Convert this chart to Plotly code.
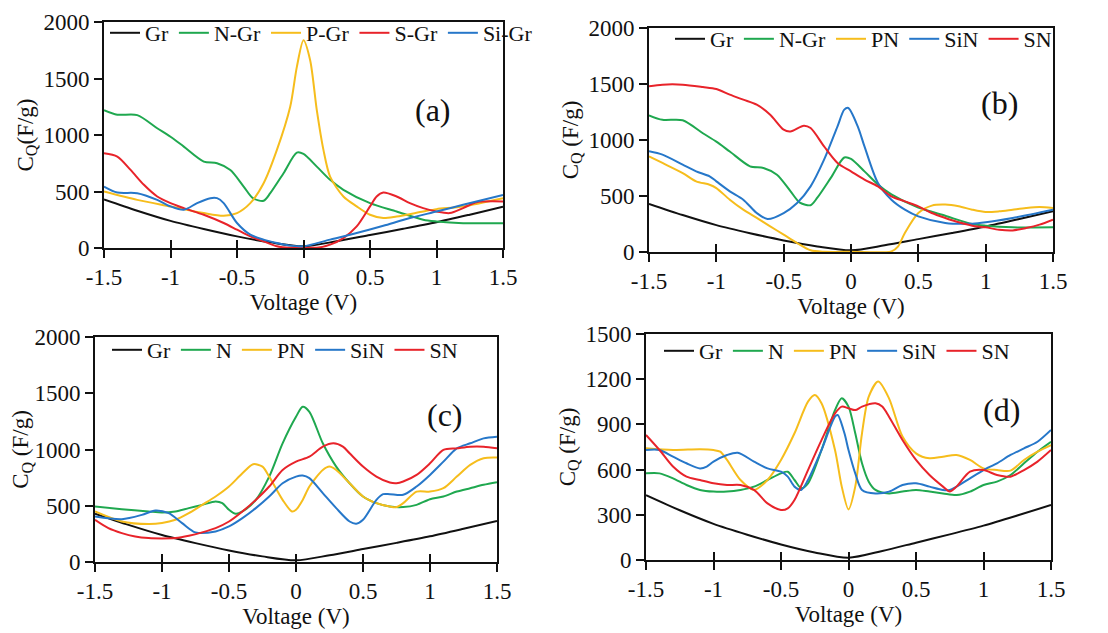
import plotly.graph_objects as go

# The page body adds an 8 px margin, so the figure is drawn 8 px in from the window edge.
WIN_W, WIN_H = 1108, 633
OFF = 8
W, H = WIN_W - OFF, WIN_H - OFF

V_TICKS = [-1.5, -1, -0.5, 0, 0.5, 1, 1.5]
V_TICK_TEXT = ["-1.5", "-1", "-0.5", "0", "0.5", "1", "1.5"]
C_TICKS_A = [0, 500, 1000, 1500, 2000]
C_TICKS_D = [0, 300, 600, 900, 1200, 1500]

# Pristine graphene (same in every panel)
gr_v = [-1.5, -1.25, -1.0, -0.75, -0.5, -0.25, 0.0, 0.25, 0.5, 0.75, 1.0, 1.25, 1.5]
gr_c = [430, 330, 240, 168, 103, 50, 15, 60, 115, 170, 228, 295, 365]

# ---------- panel (a) ----------
a_ngr_v = [-1.5, -1.4, -1.25, -1.1, -1.0, -0.9, -0.75, -0.65, -0.55, -0.45, -0.38, -0.3, -0.25,
           -0.15, -0.05, 0.0, 0.1, 0.2, 0.3, 0.5, 0.7, 0.9, 1.0, 1.2, 1.5]
a_ngr_c = [1220, 1180, 1176, 1060, 985, 897, 765, 750, 690, 544, 441, 418, 485,
           662, 844, 832, 720, 603, 515, 397, 323, 250, 235, 220, 220]
a_pgr_v = [-1.5, -1.25, -1.0, -0.75, -0.6, -0.5, -0.4, -0.3, -0.2, -0.1, -0.05, 0.0, 0.05, 0.1,
           0.15, 0.2, 0.3, 0.4, 0.5, 0.6, 0.7, 0.9, 1.0, 1.2, 1.5]
a_pgr_c = [500, 426, 368, 309, 285, 309, 397, 573, 868, 1250, 1603, 1838, 1662, 1220,
           868, 632, 456, 368, 294, 265, 279, 323, 344, 368, 441]
a_sgr_v = [-1.5, -1.4, -1.3, -1.2, -1.1, -1.0, -0.9, -0.75, -0.6, -0.5, -0.4, -0.3, -0.2, -0.1,
           0.0, 0.1, 0.2, 0.3, 0.4, 0.5, 0.55, 0.6, 0.7, 0.8, 0.9, 1.0, 1.1, 1.2, 1.3, 1.5]
a_sgr_c = [838, 809, 691, 559, 456, 397, 353, 294, 221, 162, 103, 59, 15, 2,
           5, 2, 30, 88, 191, 368, 456, 491, 456, 397, 353, 323, 309, 353, 405, 412]
a_sigr_v = [-1.5, -1.4, -1.25, -1.1, -1.0, -0.9, -0.8, -0.7, -0.65, -0.6, -0.5, -0.4, -0.3, -0.2,
            -0.1, 0.0, 0.2, 0.4, 0.6, 0.8, 1.0, 1.2, 1.5]
a_sigr_c = [544, 491, 485, 426, 368, 338, 397, 441, 441, 397, 221, 118, 74, 44,
            21, 15, 74, 132, 197, 265, 323, 382, 470]

# ---------- panel (b) ----------
b_pn_v = [-1.5, -1.4, -1.25, -1.15, -1.05, -1.0, -0.9, -0.8, -0.7, -0.6, -0.5, -0.4, -0.3, -0.2,
          0.0, 0.3, 0.35, 0.4, 0.5, 0.6, 0.7, 0.8, 0.9, 1.0, 1.1, 1.2, 1.3, 1.4, 1.5]
b_pn_c = [854, 795, 705, 631, 601, 571, 467, 378, 304, 229, 155, 80, 15, 2,
          2, 6, 51, 170, 348, 414, 423, 408, 378, 357, 363, 378, 393, 402, 393]
b_sin_v = [-1.5, -1.4, -1.25, -1.15, -1.05, -1.0, -0.9, -0.8, -0.7, -0.62, -0.5, -0.4, -0.3, -0.2,
           -0.1, -0.05, -0.02, 0.05, 0.1, 0.2, 0.3, 0.4, 0.5, 0.7, 0.9, 1.0, 1.2, 1.5]
b_sin_c = [899, 869, 780, 720, 676, 631, 542, 467, 348, 295, 348, 438, 586, 824,
           1122, 1271, 1286, 1122, 943, 616, 467, 378, 318, 259, 253, 265, 304, 378]
b_sn_v = [-1.5, -1.4, -1.25, -1.1, -1.0, -0.9, -0.8, -0.7, -0.6, -0.5, -0.45, -0.35, -0.3, -0.2,
          -0.1, 0.0, 0.1, 0.2, 0.3, 0.4, 0.5, 0.6, 0.7, 0.8, 0.9, 1.0, 1.1, 1.2, 1.3, 1.4, 1.5]
b_sn_c = [1479, 1494, 1494, 1473, 1455, 1405, 1360, 1315, 1226, 1092, 1077, 1128, 1107, 943,
          795, 720, 646, 586, 497, 452, 408, 348, 304, 265, 235, 220, 199, 193, 214, 244, 289]

# ---------- panel (c) ----------
c_n_v = [-1.5, -1.3, -1.1, -1.0, -0.9, -0.8, -0.7, -0.6, -0.55, -0.5, -0.45, -0.4, -0.3, -0.2,
         -0.1, 0.0, 0.05, 0.1, 0.2, 0.3, 0.4, 0.5, 0.6, 0.7, 0.8, 0.9, 1.0, 1.1, 1.2, 1.3, 1.4, 1.5]
c_n_c = [493, 470, 449, 440, 449, 479, 508, 538, 523, 464, 428, 449, 552, 759,
         1055, 1291, 1380, 1335, 1055, 848, 700, 582, 523, 493, 488, 508, 558, 582, 626, 656, 686, 709]
c_pn_v = [-1.5, -1.3, -1.1, -1.0, -0.9, -0.8, -0.7, -0.6, -0.5, -0.4, -0.32, -0.25, -0.2, -0.1,
          -0.03, 0.0, 0.05, 0.1, 0.2, 0.25, 0.3, 0.4, 0.5, 0.6, 0.7, 0.75, 0.8, 0.9, 1.0, 1.1,
          1.2, 1.3, 1.4, 1.5]
c_pn_c = [449, 360, 337, 346, 375, 434, 508, 582, 671, 789, 869, 848, 759, 552,
          449, 464, 552, 671, 818, 848, 818, 700, 582, 523, 493, 488, 523, 626, 626, 656,
          759, 863, 922, 928]
c_sin_v = [-1.5, -1.3, -1.15, -1.05, -0.95, -0.85, -0.75, -0.6, -0.5, -0.4, -0.3, -0.2, -0.1, 0.0,
           0.05, 0.1, 0.2, 0.3, 0.4, 0.45, 0.5, 0.6, 0.65, 0.7, 0.8, 0.9, 1.0, 1.1, 1.2, 1.3,
           1.4, 1.5]
c_sin_c = [405, 381, 419, 458, 434, 346, 263, 272, 316, 390, 479, 582, 700, 759,
           768, 745, 612, 479, 360, 340, 375, 552, 603, 603, 597, 671, 774, 892, 1010, 1055,
           1099, 1114]
c_sn_v = [-1.5, -1.4, -1.3, -1.2, -1.1, -1.0, -0.9, -0.8, -0.7, -0.6, -0.5, -0.4, -0.3, -0.2,
          -0.1, 0.0, 0.1, 0.2, 0.28, 0.35, 0.4, 0.5, 0.6, 0.7, 0.75, 0.8, 0.9, 1.0, 1.1, 1.2,
          1.3, 1.4, 1.5]
c_sn_c = [375, 301, 257, 227, 213, 210, 213, 233, 263, 301, 360, 449, 552, 671,
          818, 892, 937, 1025, 1055, 1025, 966, 848, 759, 706, 700, 715, 774, 877, 996, 1010,
          1025, 1025, 1010]

# ---------- panel (d) ----------
d_n_v = [-1.5, -1.4, -1.3, -1.2, -1.1, -1.0, -0.9, -0.8, -0.7, -0.6, -0.5, -0.45, -0.4, -0.35,
         -0.3, -0.2, -0.1, -0.05, 0.0, 0.05, 0.1, 0.15, 0.2, 0.3, 0.4, 0.5, 0.6, 0.7, 0.8, 0.9,
         1.0, 1.1, 1.2, 1.3, 1.4, 1.5]
d_n_c = [575, 575, 542, 498, 465, 454, 454, 465, 487, 531, 575, 586, 531, 476,
         509, 730, 995, 1073, 1018, 841, 642, 520, 465, 442, 454, 465, 454, 442, 431, 454,
         498, 520, 564, 642, 719, 785]
d_pn_v = [-1.5, -1.3, -1.1, -1.0, -0.95, -0.9, -0.8, -0.7, -0.6, -0.5, -0.4, -0.3, -0.25, -0.2,
          -0.1, -0.05, 0.0, 0.05, 0.1, 0.15, 0.22, 0.3, 0.4, 0.5, 0.6, 0.7, 0.8, 0.9, 1.0, 1.1,
          1.2, 1.3, 1.4, 1.5]
d_pn_c = [741, 730, 735, 730, 719, 664, 531, 465, 531, 664, 841, 1051, 1095, 1040,
          730, 487, 336, 487, 841, 1084, 1184, 1073, 819, 708, 675, 686, 697, 664, 608, 597,
          593, 664, 719, 763]
d_sin_v = [-1.5, -1.4, -1.3, -1.2, -1.1, -1.05, -1.0, -0.9, -0.82, -0.7, -0.6, -0.5, -0.45, -0.4,
           -0.35, -0.3, -0.2, -0.1, -0.08, -0.03, 0.0, 0.05, 0.1, 0.2, 0.3, 0.4, 0.5, 0.6, 0.7,
           0.75, 0.8, 0.9, 1.0, 1.1, 1.2, 1.3, 1.4, 1.5]
d_sin_c = [730, 730, 686, 642, 608, 620, 653, 697, 712, 653, 608, 586, 553, 487,
           465, 531, 730, 951, 962, 841, 730, 575, 465, 442, 454, 498, 509, 487, 465,
           465, 487, 542, 597, 642, 697, 741, 785, 863]
d_sn_v = [-1.5, -1.4, -1.3, -1.2, -1.1, -1.0, -0.9, -0.8, -0.7, -0.6, -0.5, -0.45, -0.4, -0.3,
          -0.2, -0.1, -0.05, 0.0, 0.05, 0.1, 0.2, 0.25, 0.3, 0.4, 0.5, 0.6, 0.7, 0.75, 0.8, 0.9,
          1.0, 1.1, 1.2, 1.3, 1.4, 1.5]
d_sn_c = [830, 730, 620, 553, 531, 509, 498, 498, 465, 376, 332, 343, 398, 597,
          796, 973, 1018, 1007, 995, 1018, 1040, 1018, 951, 796, 664, 564, 487, 454, 487, 586,
          597, 564, 553, 597, 653, 730]

BLACK = "#111111"
GREEN = "#1fa84f"
YELLOW = "#f6bd1c"
RED = "#e8232a"
BLUE = "#2677c9"

panels = [
    ("", "legend", [("Gr", gr_v, gr_c, BLACK), ("N-Gr", a_ngr_v, a_ngr_c, GREEN),
                    ("P-Gr", a_pgr_v, a_pgr_c, YELLOW), ("S-Gr", a_sgr_v, a_sgr_c, RED),
                    ("Si-Gr", a_sigr_v, a_sigr_c, BLUE)]),
    ("2", "legend2", [("Gr", gr_v, gr_c, BLACK), ("N-Gr", a_ngr_v, a_ngr_c, GREEN),
                      ("PN", b_pn_v, b_pn_c, YELLOW), ("SiN", b_sin_v, b_sin_c, BLUE),
                      ("SN", b_sn_v, b_sn_c, RED)]),
    ("3", "legend3", [("Gr", gr_v, gr_c, BLACK), ("N", c_n_v, c_n_c, GREEN),
                      ("PN", c_pn_v, c_pn_c, YELLOW), ("SiN", c_sin_v, c_sin_c, BLUE),
                      ("SN", c_sn_v, c_sn_c, RED)]),
    ("4", "legend4", [("Gr", gr_v, gr_c, BLACK), ("N", d_n_v, d_n_c, GREEN),
                      ("PN", d_pn_v, d_pn_c, YELLOW), ("SiN", d_sin_v, d_sin_c, BLUE),
                      ("SN", d_sn_v, d_sn_c, RED)]),
]

overlay_ids = {"": "5", "2": "6", "3": "7", "4": "8"}

fig = go.Figure()
for suffix, leg, series in panels:
    for name, xs, ys, col in series:
        fig.add_trace(go.Scatter(
            x=xs, y=ys, name=name, mode="lines",
            line=dict(color=col, width=2, shape="spline", smoothing=0.8),
            xaxis="x" + suffix, yaxis="y" + suffix, legend=leg,
            hoverinfo="skip"))
    # empty trace so the tick-overlay axis gets drawn
    fig.add_trace(go.Scatter(x=[], y=[], mode="lines", showlegend=False, hoverinfo="skip",
                             xaxis="x" + overlay_ids[suffix], yaxis="y" + suffix))

FONT = "Liberation Serif"
FS = 23


def px_x(p):
    return (p - OFF) / W


def px_y(p):
    return 1 - (p - OFF) / H


# plot-area rectangles in window pixels: left, right, top, bottom
rects = {
    "": (104, 503, 22, 248),
    "2": (649, 1053, 28, 252),
    "3": (95, 497, 337, 562),
    "4": (646, 1051, 334, 560),
}
ytitles = {"": "C<sub>Q</sub>(F/g)", "2": "C<sub>Q</sub> (F/g)",
           "3": "C<sub>Q</sub> (F/g)", "4": "C<sub>Q</sub> (F/g)"}

layout = dict(
    width=W, height=H,
    margin=dict(l=0, r=0, t=0, b=0, autoexpand=False),
    paper_bgcolor="white", plot_bgcolor="white",
    font=dict(family=FONT, size=FS, color="#111111"),
    showlegend=True,
)

for suffix, (l, r, t, b) in rects.items():
    xkey = "xaxis" + suffix
    ykey = "yaxis" + suffix
    dom_x = [px_x(l), px_x(r)]
    layout[xkey] = dict(
        domain=dom_x, anchor="y" + suffix, automargin=False,
        range=[-1.5, 1.5], tickvals=V_TICKS, ticktext=V_TICK_TEXT,
        showgrid=False, zeroline=False, showline=True, linecolor="#111111", linewidth=1.6,
        mirror=True, ticks="outside", ticklen=8, tickwidth=1.6, tickcolor="#111111",
        tickfont=dict(family=FONT, size=FS),
        title=dict(text="Voltage (V)", font=dict(family=FONT, size=FS), standoff=0),
    )
    # inner half of the x tick marks (ticks cross the axis in the reference)
    layout["xaxis" + overlay_ids[suffix]] = dict(
        domain=dom_x, anchor="y" + suffix, overlaying="x" + suffix, side="bottom",
        automargin=False, range=[-1.5, 1.5], tickvals=V_TICKS, showticklabels=False,
        showgrid=False, zeroline=False, showline=False,
        ticks="inside", ticklen=8, tickwidth=1.6, tickcolor="#111111",
    )
    yt = C_TICKS_D if suffix == "4" else C_TICKS_A
    layout[ykey] = dict(
        domain=[px_y(b), px_y(t)], anchor="x" + suffix, automargin=False,
        range=[0, yt[-1]], tickvals=yt,
        showgrid=False, zeroline=False, showline=True, linecolor="#111111", linewidth=1.6,
        mirror=True, ticks="outside", ticklen=8, tickwidth=1.6, tickcolor="#111111",
        tickfont=dict(family=FONT, size=FS),
        title=dict(text=ytitles[suffix], font=dict(family=FONT, size=FS), standoff=4),
    )

# legend anchor (window px): first line sample starts ~15 px to the right of it
legend_pos = {"legend": (105, 33), "legend2": (670, 39), "legend3": (107, 350), "legend4": (659, 351)}
for key, (lx, ly) in legend_pos.items():
    layout[key] = dict(
        x=px_x(lx), y=px_y(ly), xanchor="left", yanchor="middle", xref="paper", yref="paper",
        orientation="h", bgcolor="rgba(0,0,0,0)", borderwidth=0,
        font=dict(family=FONT, size=22, color="#111111"),
        itemwidth=30, tracegroupgap=0,
    )

labels = [("(a)", 433, 110), ("(b)", 999, 103), ("(c)", 445, 415), ("(d)", 1001, 410)]
layout["annotations"] = [
    dict(text=t, x=px_x(x), y=px_y(y), xref="paper", yref="paper", showarrow=False,
         xanchor="center", yanchor="middle", font=dict(family=FONT, size=32, color="#111111"))
    for t, x, y in labels
]

fig.update_layout(**layout)
fig.write_html("out.html")
